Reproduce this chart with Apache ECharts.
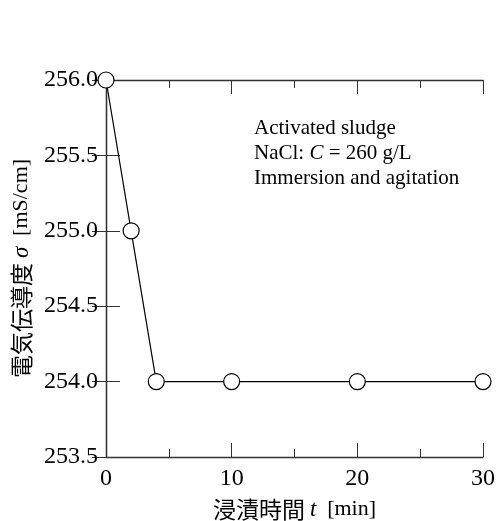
<!DOCTYPE html>
<html>
<head>
<meta charset="utf-8">
<script src="https://cdn.jsdelivr.net/npm/echarts@6/dist/echarts.min.js"></script>
<style>
  html, body { margin: 0; padding: 0; background: #fff; }
  #chart { width: 499px; height: 521px; }
</style>
</head>
<body>
<div id="chart"></div>
<script>
// Immersion time [min] and measured electrical conductivity [mS/cm]
const timeMin = [0, 2, 4, 10, 20, 30];
const conductivity = [256.0, 255.0, 254.0, 254.0, 254.0, 254.0];
const xTicks = [0, 10, 20, 30];
const yTicks = [253.5, 254.0, 254.5, 255.0, 255.5, 256.0];
const noteLines = ['Activated sludge', 'NaCl: {i|C} = 260 g/L', 'Immersion and agitation'];

const serif = '"Liberation Serif", "Times New Roman", serif';
const gothic = '"Noto Sans CJK JP", "Noto Sans", sans-serif';
const axisColor = '#333';

const chart = echarts.init(document.getElementById('chart'), null, { renderer: 'canvas' });

const points = timeMin.map((t, i) => [t, conductivity[i]]);

const nameRich = {
  i: { fontFamily: serif, fontStyle: 'italic', fontSize: 23, color: '#000' },
  s: { fontFamily: serif, fontSize: 22, color: '#000' }
};

const baseX = {
  type: 'value', min: xTicks[0], max: xTicks[xTicks.length - 1], interval: 10,
  axisLine: { show: true, lineStyle: { color: axisColor, width: 1.3 } },
  axisTick: { show: true, inside: true, length: 14, lineStyle: { color: axisColor, width: 1 } },
  minorTick: { show: true, splitNumber: 2, length: 8, lineStyle: { color: axisColor, width: 1 } },
  splitLine: { show: false }
};
const baseY = {
  type: 'value', min: yTicks[0], max: yTicks[yTicks.length - 1], interval: 0.5,
  axisLine: { show: true, lineStyle: { color: axisColor, width: 1.3 } },
  axisTick: { show: true, inside: true, length: 14, lineStyle: { color: axisColor, width: 1 } },
  splitLine: { show: false }
};

chart.setOption({
  animation: false,
  backgroundColor: '#fff',
  grid: { left: 106, top: 80, right: 16, bottom: 64, containLabel: false, outerBoundsMode: 'none' },
  xAxis: [
    Object.assign({}, baseX, {
      position: 'bottom',
      axisLabel: { color: '#000', fontFamily: serif, fontSize: 24, margin: 10 },
      name: '浸漬時間 {i|t} {s| [min]}',
      nameLocation: 'middle',
      nameGap: 41,
      nameMoveOverlap: false,
      nameTextStyle: { color: '#000', fontFamily: gothic, fontSize: 23, rich: nameRich }
    }),
    Object.assign({}, baseX, { position: 'top', axisLabel: { show: false } })
  ],
  yAxis: [
    Object.assign({}, baseY, {
      position: 'left',
      axisLabel: {
        color: '#000', fontFamily: serif, fontSize: 24, margin: 8,
        formatter: v => v.toFixed(1)
      },
      name: '電気伝導度 {i|σ} {s| [mS/cm]}',
      nameLocation: 'middle',
      nameRotate: 90,
      nameGap: 73,
      nameMoveOverlap: false,
      nameTextStyle: { color: '#000', fontFamily: gothic, fontSize: 23, rich: nameRich }
    }),
    Object.assign({}, baseY, { position: 'right', axisLabel: { show: false } })
  ],
  graphic: [{
    type: 'text',
    left: 254,
    top: 116,
    style: {
      text: noteLines.join('\n'),
      fontFamily: serif,
      fontSize: 21,
      lineHeight: 25,
      fill: '#000',
      rich: {
        i: { fontFamily: serif, fontStyle: 'italic', fontSize: 21, lineHeight: 25, fill: '#000' }
      }
    },
    z: 10
  }],
  series: [{
    type: 'line',
    data: points,
    xAxisIndex: 0,
    yAxisIndex: 0,
    symbol: 'circle',
    symbolSize: 16,
    clip: false,
    lineStyle: { color: '#000', width: 1.2 },
    itemStyle: { color: '#fff', borderColor: '#000', borderWidth: 1.2 },
    z: 5
  }]
});
</script>
</body>
</html>
